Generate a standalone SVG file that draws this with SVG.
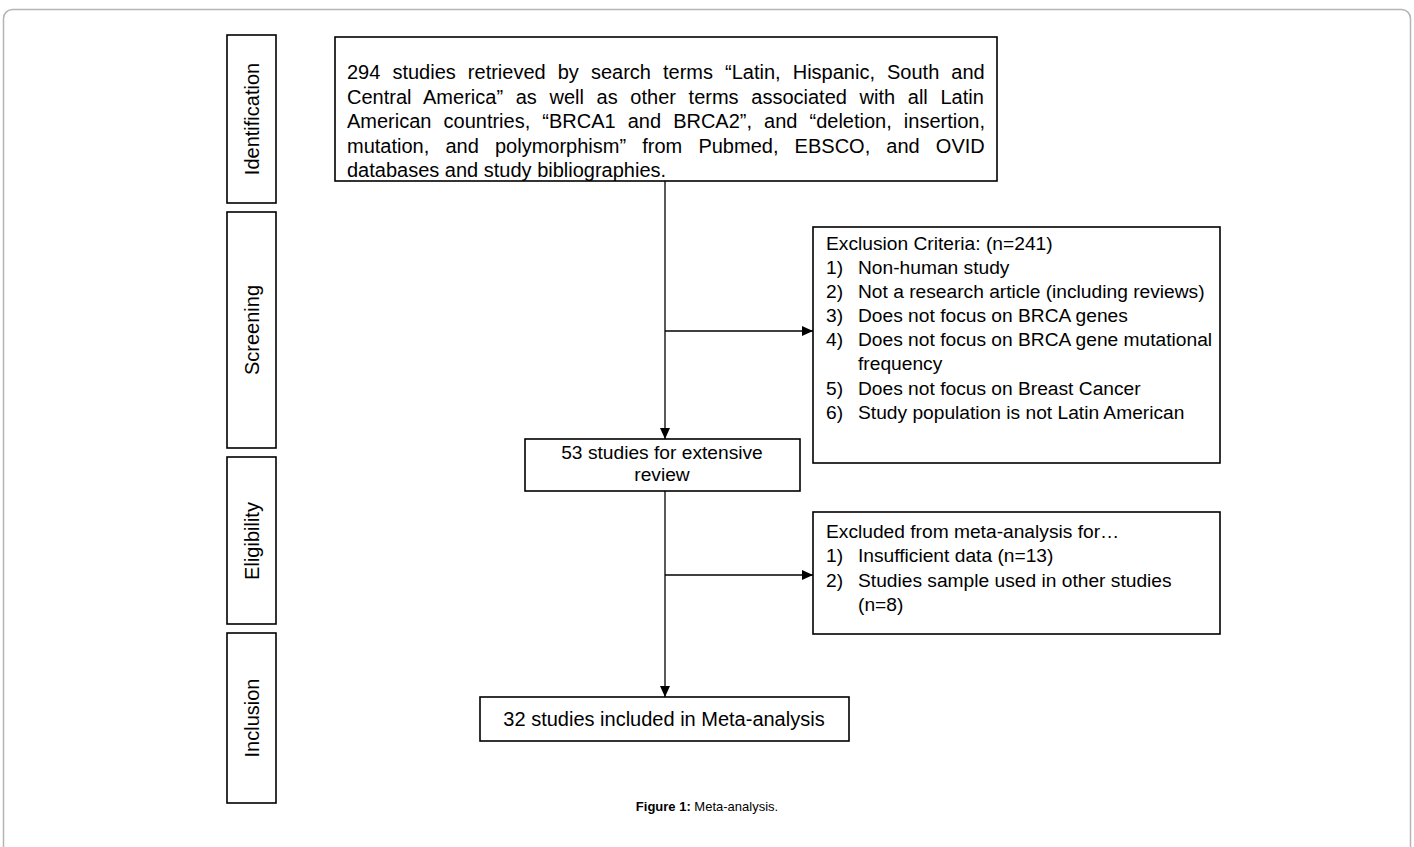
<svg xmlns="http://www.w3.org/2000/svg" width="1414" height="847" viewBox="0 0 1414 847">
<style>
.frame{fill:#fff;stroke:#b5b5b5;stroke-width:1.5}
.box{fill:#fff;stroke:#000;stroke-width:1.6}
.t{font-family:"Liberation Sans",Arial,sans-serif;font-size:19.2px;fill:#000}
.s{font-family:"Liberation Sans",Arial,sans-serif;font-size:20px;fill:#000}
.c{text-anchor:middle}
.cap{font-family:"Liberation Sans",Arial,sans-serif;font-size:13px;fill:#000;text-anchor:middle}
.ln{stroke:#000;stroke-width:1.3;fill:none}
</style>
<defs>
<marker id="ar" markerWidth="12" markerHeight="10" refX="11" refY="5" orient="auto" markerUnits="userSpaceOnUse">
<path d="M0,0 L11,5 L0,10 Z" fill="#000"/>
</marker>
</defs>
<rect class="frame" x="3.5" y="9.5" width="1407" height="880" rx="9"/>
<g id="stage-identification">
<rect class="box" x="227" y="35" width="49" height="168"/>
<text class="s c" transform="translate(259,119) rotate(-90)">Identification</text>
</g>
<g id="stage-screening">
<rect class="box" x="227" y="212" width="49" height="236"/>
<text class="s c" transform="translate(259,330) rotate(-90)">Screening</text>
</g>
<g id="stage-eligibility">
<rect class="box" x="227" y="457" width="49" height="167"/>
<text class="s c" transform="translate(259,541) rotate(-90)">Eligibility</text>
</g>
<g id="stage-inclusion">
<rect class="box" x="227" y="633" width="49" height="170"/>
<text class="s c" transform="translate(259,718) rotate(-90)">Inclusion</text>
</g>
<g id="connectors">
<line class="ln" x1="665" y1="181" x2="665" y2="439" marker-end="url(#ar)"/>
<line class="ln" x1="665" y1="331" x2="813" y2="331" marker-end="url(#ar)"/>
<line class="ln" x1="665" y1="491" x2="665" y2="697" marker-end="url(#ar)"/>
<line class="ln" x1="665" y1="575" x2="813" y2="575" marker-end="url(#ar)"/>
</g>
<g id="node-search">
<rect class="box" x="335" y="37" width="662" height="144"/>
<text class="s" x="347" y="79" word-spacing="6.5">294 studies retrieved by search terms “Latin, Hispanic, South and</text>
<text class="s" x="347" y="104" word-spacing="7.1">Central America” as well as other terms associated with all Latin</text>
<text class="s" x="347" y="128" word-spacing="6.5">American countries, “BRCA1 and BRCA2”, and “deletion, insertion,</text>
<text class="s" x="347" y="153" word-spacing="10.6">mutation, and polymorphism” from Pubmed, EBSCO, and OVID</text>
<text class="s" x="347" y="177">databases and study bibliographies.</text>
</g>
<g id="node-exclusion">
<rect class="box" x="813" y="227" width="407" height="236"/>
<text class="t" x="826" y="250" font-size="18.5">Exclusion Criteria: (n=241)</text>
<text class="t" x="826" y="274">1)</text><text class="t" x="858" y="274">Non-human study</text>
<text class="t" x="826" y="298">2)</text><text class="t" x="858" y="298">Not a research article (including reviews)</text>
<text class="t" x="826" y="322">3)</text><text class="t" x="858" y="322">Does not focus on BRCA genes</text>
<text class="t" x="826" y="346">4)</text><text class="t" x="858" y="346">Does not focus on BRCA gene mutational</text>
<text class="t" x="858" y="370">frequency</text>
<text class="t" x="826" y="395">5)</text><text class="t" x="858" y="395">Does not focus on Breast Cancer</text>
<text class="t" x="826" y="419">6)</text><text class="t" x="858" y="419">Study population is not Latin American</text>
</g>
<g id="node-review">
<rect class="box" x="525" y="439" width="275" height="52"/>
<text class="t c" x="662" y="459" font-size="19">53 studies for extensive</text>
<text class="t c" x="662" y="481" font-size="19">review</text>
</g>
<g id="node-excluded-meta">
<rect class="box" x="813" y="512" width="407" height="122"/>
<text class="t" x="826" y="538" font-size="18.5">Excluded from meta-analysis for…</text>
<text class="t" x="826" y="562">1)</text><text class="t" x="858" y="562">Insufficient data (n=13)</text>
<text class="t" x="826" y="587">2)</text><text class="t" x="858" y="587">Studies sample used in other studies</text>
<text class="t" x="858" y="611">(n=8)</text>
</g>
<g id="node-included">
<rect class="box" x="480" y="697" width="369" height="44"/>
<text class="s c" x="664" y="726">32 studies included in Meta-analysis</text>
</g>
<text class="cap" x="707" y="811"><tspan font-weight="bold">Figure 1:</tspan> Meta-analysis.</text>
</svg>
